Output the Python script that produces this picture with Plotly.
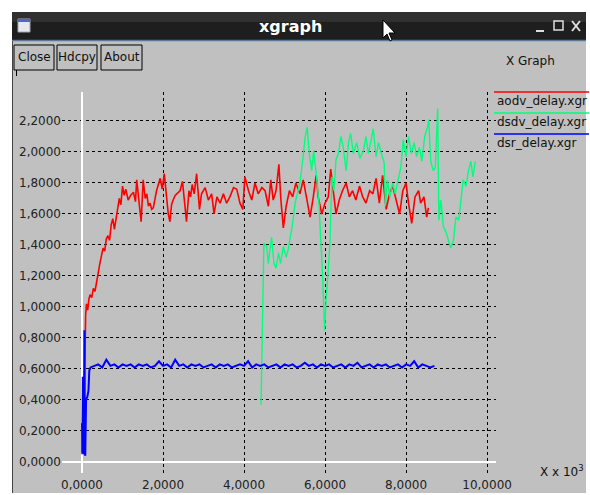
import plotly.graph_objects as go

# ---------------- data (x in units of 10^3) ----------------
aodv_x = [0.00, 0.01, 0.02, 0.03, 0.04, 0.05, 0.06, 0.07, 0.09, 0.11, 0.14, 0.17, 0.20, 0.24, 0.28,
          0.32, 0.36, 0.40, 0.44, 0.48, 0.52, 0.56, 0.60, 0.64, 0.68, 0.72, 0.76, 0.80, 0.84, 0.88,
          0.92, 0.96, 1.00, 1.04, 1.08, 1.14, 1.20, 1.27, 1.32, 1.35, 1.39, 1.46, 1.51, 1.56, 1.60,
          1.64, 1.68, 1.72, 1.76, 1.80, 1.84, 1.93, 1.98, 2.03, 2.09, 2.13, 2.17, 2.21, 2.25, 2.30,
          2.34, 2.42, 2.48, 2.54, 2.58, 2.64, 2.68, 2.72, 2.77, 2.83, 2.90, 2.95, 3.04, 3.12, 3.20,
          3.26, 3.33, 3.41, 3.49, 3.57, 3.65, 3.74, 3.82, 3.90, 3.97, 4.02, 4.11, 4.19, 4.27, 4.35,
          4.44, 4.52, 4.60, 4.66, 4.72, 4.79, 4.86, 4.91, 4.97, 5.04, 5.12, 5.20, 5.28, 5.38, 5.46,
          5.54, 5.63, 5.71, 5.78, 5.83, 5.92, 6.00, 6.08, 6.14, 6.21, 6.27, 6.35, 6.43, 6.52, 6.60,
          6.68, 6.76, 6.85, 6.93, 7.01, 7.10, 7.18, 7.26, 7.34, 7.42, 7.51, 7.59, 7.67, 7.75, 7.84,
          7.92, 8.00, 8.06, 8.14, 8.22, 8.31, 8.36, 8.44, 8.51, 8.55]
aodv_y = [0.05, 0.25, 0.08, 0.40, 0.55, 0.35, 0.52, 0.85, 0.95, 1.02, 0.98, 1.05, 1.08, 1.06, 1.12,
          1.10, 1.17, 1.22, 1.28, 1.33, 1.38, 1.36, 1.44, 1.46, 1.43, 1.53, 1.57, 1.50, 1.56, 1.64,
          1.70, 1.66, 1.78, 1.72, 1.76, 1.69, 1.72, 1.74, 1.68, 1.82, 1.72, 1.55, 1.82, 1.70, 1.73,
          1.65, 1.67, 1.63, 1.64, 1.70, 1.75, 1.83, 1.76, 1.86, 1.67, 1.60, 1.55, 1.66, 1.69, 1.72,
          1.73, 1.75, 1.81, 1.63, 1.55, 1.75, 1.71, 1.79, 1.73, 1.86, 1.63, 1.73, 1.77, 1.69, 1.73,
          1.60, 1.71, 1.67, 1.73, 1.67, 1.71, 1.77, 1.76, 1.67, 1.63, 1.84, 1.75, 1.69, 1.80, 1.73,
          1.77, 1.75, 1.65, 1.82, 1.69, 1.75, 1.92, 1.69, 1.51, 1.65, 1.75, 1.71, 1.80, 1.73, 1.82,
          1.71, 1.58, 1.71, 1.85, 1.71, 1.60, 1.67, 1.71, 1.89, 1.75, 1.60, 1.69, 1.75, 1.80, 1.71,
          1.75, 1.69, 1.78, 1.71, 1.67, 1.75, 1.73, 1.83, 1.67, 1.85, 1.63, 1.73, 1.78, 1.69, 1.60,
          1.75, 1.80, 1.67, 1.54, 1.71, 1.75, 1.67, 1.71, 1.58, 1.64]

dsdv_x = [4.42, 4.46, 4.49, 4.56, 4.60, 4.64, 4.68, 4.74, 4.79, 4.85, 4.90, 4.97, 5.04, 5.09, 5.15,
          5.20, 5.26, 5.31, 5.38, 5.45, 5.51, 5.56, 5.61, 5.67, 5.72, 5.79, 5.85, 5.89, 5.94, 5.99,
          6.03, 6.08, 6.12, 6.17, 6.22, 6.27, 6.33, 6.39, 6.45, 6.52, 6.58, 6.63, 6.70, 6.78, 6.86,
          6.95, 7.01, 7.07, 7.13, 7.19, 7.26, 7.32, 7.39, 7.46, 7.49, 7.54, 7.60, 7.67, 7.73, 7.80,
          7.87, 7.93, 8.00, 8.06, 8.13, 8.20, 8.26, 8.33, 8.39, 8.46, 8.53, 8.56, 8.61, 8.67, 8.72,
          8.78, 8.81, 8.86, 8.92, 8.99, 9.05, 9.10, 9.17, 9.23, 9.30, 9.35, 9.41, 9.48, 9.54, 9.60,
          9.65, 9.71]
dsdv_y = [0.37, 0.91, 1.41, 1.39, 1.28, 1.37, 1.45, 1.28, 1.25, 1.35, 1.28, 1.39, 1.32, 1.37, 1.45,
          1.54, 1.67, 1.73, 1.80, 1.95, 2.10, 2.16, 1.99, 1.88, 2.01, 1.84, 1.67, 1.45, 1.20, 0.85,
          1.07, 1.24, 1.41, 1.84, 1.75, 1.95, 1.99, 2.10, 2.03, 1.88, 2.06, 2.12, 1.99, 2.06, 1.96,
          2.01, 2.10, 1.99, 2.06, 2.15, 1.97, 2.06, 1.99, 1.93, 1.65, 1.82, 1.71, 1.80, 1.73, 1.82,
          1.90, 2.08, 1.97, 2.10, 1.99, 2.06, 1.97, 2.03, 1.94, 2.10, 2.16, 2.21, 1.94, 1.88, 1.90,
          2.28, 1.56, 1.69, 1.52, 1.48, 1.43, 1.38, 1.43, 1.58, 1.56, 1.69, 1.82, 1.78, 1.88, 1.94,
          1.84, 1.94]

dsr_x = [0.00, 0.01, 0.02, 0.03, 0.05, 0.06, 0.07, 0.08, 0.10, 0.13, 0.16, 0.18, 0.21,
         0.3, 0.4, 0.5, 0.6, 0.7, 0.8, 0.9, 1.0, 1.1, 1.2, 1.3, 1.4, 1.5, 1.6, 1.7, 1.8, 1.9,
         2.0, 2.1, 2.2, 2.3, 2.4, 2.5, 2.6, 2.7, 2.8, 2.9, 3.0, 3.1, 3.2, 3.3, 3.4, 3.5, 3.6,
         3.7, 3.8, 3.9, 4.0, 4.1, 4.2, 4.3, 4.4, 4.5, 4.6, 4.7, 4.8, 4.9, 5.0, 5.1, 5.2, 5.3,
         5.4, 5.5, 5.6, 5.7, 5.8, 5.9, 6.0, 6.1, 6.2, 6.3, 6.4, 6.5, 6.6, 6.7, 6.8, 6.9, 7.0,
         7.1, 7.2, 7.3, 7.4, 7.5, 7.6, 7.7, 7.8, 7.9, 8.0, 8.1, 8.2, 8.3, 8.4, 8.5, 8.6, 8.7]
dsr_y = [0.25, 0.06, 0.55, 0.05, 0.30, 0.85, 0.06, 0.04, 0.40, 0.42, 0.46, 0.59, 0.61,
         0.62, 0.63, 0.61, 0.66, 0.62, 0.63, 0.61, 0.63, 0.62, 0.63, 0.61, 0.63, 0.62, 0.63, 0.61,
         0.62, 0.65, 0.62, 0.63, 0.61, 0.66, 0.62, 0.63, 0.61, 0.63, 0.62, 0.63, 0.61, 0.62, 0.63,
         0.61, 0.63, 0.62, 0.63, 0.61, 0.62, 0.63, 0.62, 0.65, 0.61, 0.63, 0.62, 0.63, 0.61, 0.62,
         0.63, 0.61, 0.63, 0.62, 0.63, 0.61, 0.62, 0.64, 0.62, 0.63, 0.61, 0.63, 0.62, 0.63, 0.61,
         0.62, 0.63, 0.61, 0.63, 0.62, 0.64, 0.61, 0.62, 0.63, 0.61, 0.63, 0.62, 0.63, 0.61, 0.62,
         0.63, 0.61, 0.63, 0.62, 0.65, 0.61, 0.63, 0.62, 0.61, 0.62]

series_names = ["aodv_delay.xgr", "dsdv_delay.xgr", "dsr_delay.xgr"]
series_colors = ["#ff0000", "#00ff7f", "#0000ff"]

x_tickvals = [0, 2, 4, 6, 8, 10]
x_ticktext = ["0,0000", "2,0000", "4,0000", "6,0000", "8,0000", "10,0000"]
y_tickvals = [0.0, 0.2, 0.4, 0.6, 0.8, 1.0, 1.2, 1.4, 1.6, 1.8, 2.0, 2.2]
y_ticktext = ["0,0000", "0,2000", "0,4000", "0,6000", "0,8000", "1,0000",
              "1,2000", "1,4000", "1,6000", "1,8000", "2,0000", "2,2000"]

# ---------------- figure ----------------
W, H = 590, 495
def fx(p): return p / W
def fy(p): return 1 - p / H

FONT = "DejaVu Sans, Liberation Sans, sans-serif"
GRAY = "#c0c0c0"

fig = go.Figure()
for xs, ys, c, lw in [(aodv_x, aodv_y, series_colors[0], 1.6),
                      (dsdv_x, dsdv_y, series_colors[1], 1.4),
                      (dsr_x, dsr_y, series_colors[2], 2.0)]:
    fig.add_trace(go.Scatter(x=xs, y=ys, mode="lines", line=dict(color=c, width=lw),
                             showlegend=False, hoverinfo="skip"))

shapes = []
def rect(x0, y0, x1, y1, fill=None, line=None, lw=1, layer="below"):
    shapes.append(dict(type="rect", xref="paper", yref="paper",
                       x0=fx(x0), y0=fy(y1), x1=fx(x1), y1=fy(y0),
                       fillcolor=fill if fill else "rgba(0,0,0,0)",
                       line=dict(color=line if line else "rgba(0,0,0,0)", width=lw if line else 0),
                       layer=layer))
def seg(x0, y0, x1, y1, color, lw=1, layer="above"):
    shapes.append(dict(type="line", xref="paper", yref="paper",
                       x0=fx(x0), y0=fy(y0), x1=fx(x1), y1=fy(y1),
                       line=dict(color=color, width=lw), layer=layer))

# window body
rect(12, 40, 586, 493, fill=GRAY)
seg(12.5, 40, 12.5, 493, "#444444", 1, "below")
# title bar
rect(12, 12, 586, 41, fill="#1e1e1e")
rect(12, 12, 586, 22, fill="#303030")
seg(12, 40.5, 586, 40.5, "#5a7a9a", 1.5, "below")
# title icon
rect(18, 19, 30, 32, fill="#e6e8ee", line="#9aa4b8", lw=1)
rect(18, 19, 30, 22, fill="#4a6cc0")
# buttons
for bx0, bx1 in [(14, 54), (57, 97), (101, 142)]:
    rect(bx0, 45, bx1, 70, fill=GRAY, line="#000000", lw=1, layer="above")
seg(16.5, 70, 16.5, 76, "#000000", 1)
# window control glyphs (minimize / maximize / close)
seg(536, 31, 544, 31, "#dddddd", 2)
rect(554, 21, 563, 30, line="#dddddd", lw=1.5, layer="above")
seg(572, 21, 580, 31, "#dddddd", 2)
seg(580, 21, 572, 31, "#dddddd", 2)
# legend lines
for i, c in enumerate(series_colors):
    yy = 92 + 21 * i
    seg(494, yy, 589, yy, c, 1.5)

# mouse cursor
cur = [(383, 20), (383, 38), (387, 34), (390, 41), (392, 40), (389, 33), (395, 33)]
path = "M " + " L ".join(f"{fx(a):.5f},{fy(b):.5f}" for a, b in cur) + " Z"
shapes.append(dict(type="path", xref="paper", yref="paper", path=path,
                   fillcolor="#ffffff", line=dict(color="#000000", width=1), layer="above"))

ann = []
def text(x, y, s, size=12, color="#111111", xanchor="center", bold=False, family=FONT):
    ann.append(dict(xref="paper", yref="paper", x=fx(x), y=fy(y), text=f"<b>{s}</b>" if bold else s,
                    showarrow=False, xanchor=xanchor, yanchor="middle",
                    font=dict(family=family, size=size, color=color)))

text(290, 26, "xgraph", size=16, color="#ffffff", bold=True)
text(34, 57, "Close", size=12)
text(77, 57, "Hdcpy", size=12)
text(121.5, 57, "About", size=12)
text(530, 61, "X Graph", size=12)
for i, n in enumerate(series_names):
    text(495, 101 + 21 * i, n, size=12, xanchor="left")
text(538, 471, "X x 10<sup>3</sup>", size=12, xanchor="left")

fig.update_layout(
    width=W, height=H, autosize=False,
    margin=dict(l=0, r=0, t=0, b=0, pad=0),
    paper_bgcolor="#ffffff", plot_bgcolor=GRAY,
    shapes=shapes, annotations=ann,
    xaxis=dict(domain=[fx(62), fx(496)], range=[-0.494, 10.22], automargin=False,
               tickvals=x_tickvals, ticktext=x_ticktext, ticks="", ticklabelstandoff=3,
               showgrid=True, gridcolor="#000000", gridwidth=1, griddash="dot",
               zeroline=True, zerolinecolor="#ffffff", zerolinewidth=2,
               showline=False, tickfont=dict(family=FONT, size=12, color="#222222")),
    yaxis=dict(domain=[1 - 473 / H, 1 - 92 / H], range=[-0.071, 2.387], automargin=False,
               tickvals=y_tickvals, ticktext=y_ticktext, ticks="",
               showgrid=True, gridcolor="#000000", gridwidth=1, griddash="dot",
               zeroline=True, zerolinecolor="#ffffff", zerolinewidth=2,
               showline=False, tickfont=dict(family=FONT, size=12, color="#222222")),
)

fig.write_html(
    "out.html",
    config={"displayModeBar": False, "responsive": False},
    post_script=("document.body.style.margin='0px';document.body.style.overflow='hidden';"
                 "Plotly.relayout('{plot_id}', {width: 590, height: 495});"),
)
